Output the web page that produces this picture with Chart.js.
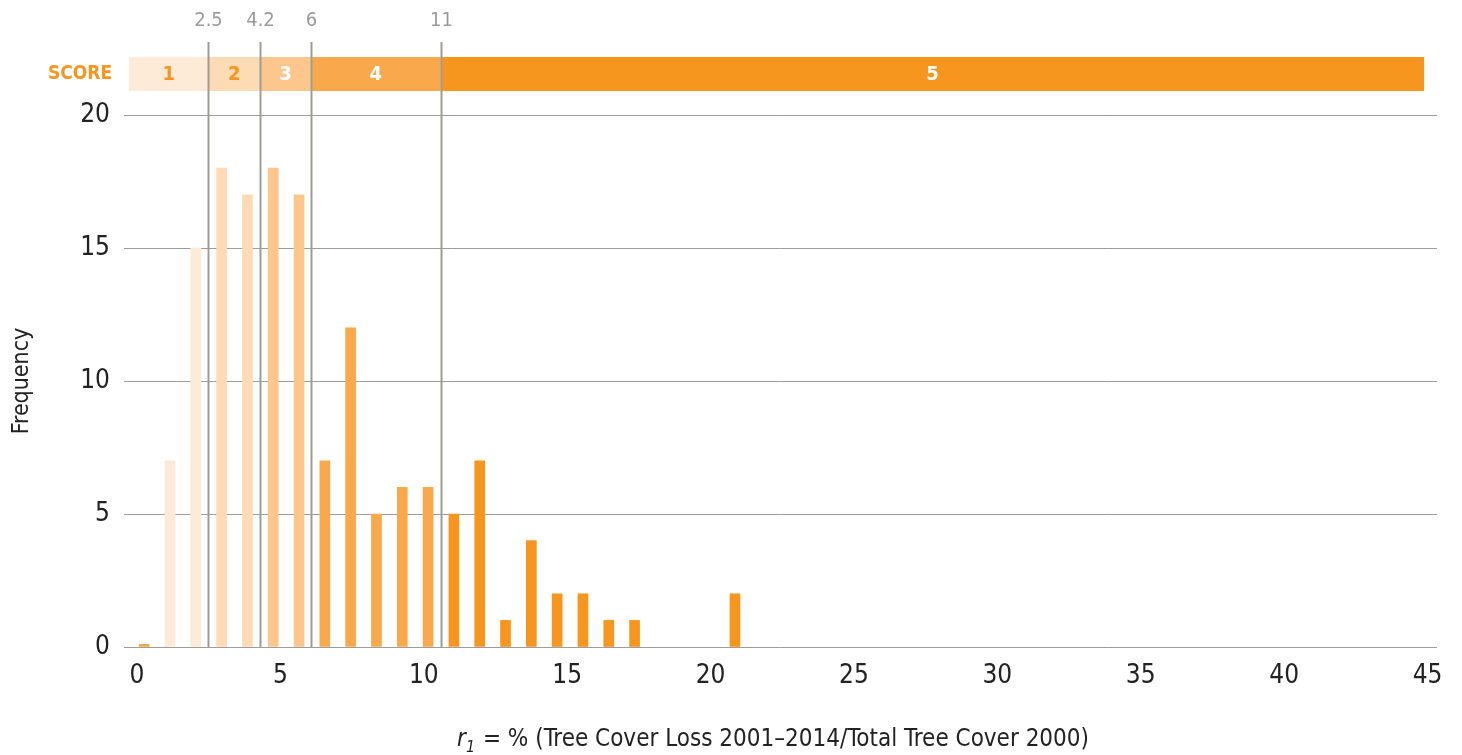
<!DOCTYPE html>
<html>
<head>
<meta charset="utf-8">
<script src="https://cdn.jsdelivr.net/npm/chart.js@4/dist/chart.umd.min.js"></script>
<style>
html,body{margin:0;padding:0;background:#fff;}
#wrap{width:1462px;height:755px;position:relative;}
</style>
</head>
<body>
<div id="wrap"><canvas id="c" width="1462" height="755"></canvas></div>
<script>
// ---- data ----
const binCenters = [0.25, 1.15, 2.05, 2.95, 3.85, 4.75, 5.65, 6.55, 7.45, 8.35, 9.25, 10.15, 11.05, 11.95, 12.85, 13.75, 14.65, 15.55, 16.45, 17.35, 20.85];
const frequency  = [0.1, 7, 15, 18, 17, 18, 17, 7, 12, 5, 6, 6, 5, 7, 1, 4, 2, 2, 1, 1, 2];
const binScore   = [4, 1, 1, 2, 2, 3, 3, 4, 4, 4, 4, 4, 5, 5, 5, 5, 5, 5, 5, 5, 5];
const xTicks     = [0, 5, 10, 15, 20, 25, 30, 35, 40, 45];
const yTicks     = [0, 5, 10, 15, 20];
const thresholdLabels    = ["2.5", "4.2", "6", "11"];
const thresholdPositions = [2.49, 4.30, 6.06, 10.59];
const scoreLabels = ["1", "2", "3", "4", "5"];
const scoreBandEdges = [-0.28, 2.49, 4.30, 6.06, 10.59, 44.88];

const scoreColors = ["#fdebd8", "#fddbb5", "#fcc68c", "#faa84c", "#f7961f"];
const scoreTextColors = ["#f7961f", "#f7961f", "#ffffff", "#ffffff", "#ffffff"];
const FONT = "'Liberation Sans Narrow', 'DejaVu Sans Condensed', 'Roboto', sans-serif";

const annot = {
  id: 'annot',
  afterDatasetsDraw(chart) {
    const ctx = chart.ctx;
    const xs = chart.scales.x, ys = chart.scales.y;
    const base = ys.getPixelForValue(0);
    // score band
    const bTop = 57, bBot = 91;
    for (let i = 0; i < scoreLabels.length; i++) {
      const x0 = xs.getPixelForValue(scoreBandEdges[i]);
      const x1 = xs.getPixelForValue(scoreBandEdges[i + 1]);
      ctx.fillStyle = scoreColors[i];
      ctx.fillRect(x0, bTop, x1 - x0, bBot - bTop);
      ctx.fillStyle = scoreTextColors[i];
      ctx.font = "bold 20px " + FONT;
      ctx.textAlign = 'center';
      ctx.textBaseline = 'middle';
      ctx.fillText(scoreLabels[i], (x0 + x1) / 2, (bTop + bBot) / 2 + 1);
    }
    ctx.fillStyle = "#f7961f";
    ctx.font = "bold 19px " + FONT;
    ctx.textAlign = 'center';
    ctx.fillText("SCORE", 80, 74);
    // threshold lines
    ctx.strokeStyle = "#9d9d95";
    ctx.lineWidth = 2;
    for (let i = 0; i < thresholdPositions.length; i++) {
      const px = Math.round(xs.getPixelForValue(thresholdPositions[i])) + 0.5;
      ctx.beginPath();
      ctx.moveTo(px, 42);
      ctx.lineTo(px, base);
      ctx.stroke();
      ctx.fillStyle = "#9a9a9a";
      ctx.font = "20px " + FONT;
      ctx.textAlign = 'center';
      ctx.textBaseline = 'middle';
      ctx.fillText(thresholdLabels[i], px, 21);
    }
    // x-axis title with italic r and subscript 1
    const t1 = "r", t2 = "1", t3 = " = % (Tree Cover Loss 2001\u20132014/Total Tree Cover 2000)";
    ctx.textBaseline = 'alphabetic';
    ctx.textAlign = 'left';
    ctx.fillStyle = "#222";
    ctx.font = "italic 24px " + FONT;
    const w1 = ctx.measureText(t1).width;
    ctx.font = "italic 16px " + FONT;
    const w2 = ctx.measureText(t2).width;
    ctx.font = "24px " + FONT;
    const w3 = ctx.measureText(t3).width;
    const total = w1 + w2 + 1 + w3;
    let sx = 773 - total / 2;
    const by = 746;
    ctx.font = "italic 24px " + FONT;
    ctx.fillText(t1, sx, by);
    sx += w1;
    ctx.font = "italic 16px " + FONT;
    ctx.fillText(t2, sx, by + 6);
    sx += w2 + 1;
    ctx.font = "24px " + FONT;
    ctx.fillText(t3, sx, by);
  }
};

new Chart(document.getElementById('c'), {
  type: 'bar',
  data: {
    datasets: [{
      data: binCenters.map((x, i) => ({ x: x, y: frequency[i] })),
      backgroundColor: binScore.map(s => scoreColors[s - 1]),
      barThickness: 10,
      borderWidth: 0
    }]
  },
  options: {
    responsive: false,
    animation: false,
    layout: { padding: { left: 0, top: 115, right: 25, bottom: 0 } },
    plugins: { legend: { display: false }, tooltip: { enabled: false } },
    scales: {
      x: {
        type: 'linear',
        offset: false,
        min: -0.453,
        max: 45.33,
        grid: { display: false, offset: false },
        border: { display: false },
        afterBuildTicks(scale) { scale.ticks = xTicks.map(v => ({ value: v })); },
        afterFit(scale) { scale.height = 108; },
        ticks: {
          color: '#222',
          padding: 6,
          maxRotation: 0,
          autoSkip: false,
          font: { family: FONT, size: 26 },
          callback: v => String(v)
        }
      },
      y: {
        min: 0,
        max: 20,
        afterBuildTicks(scale) { scale.ticks = yTicks.map(v => ({ value: v })); },
        afterFit(scale) { scale.width = 124; },
        grid: { color: '#9d9d9d', lineWidth: 1, drawTicks: false },
        border: { display: false },
        ticks: {
          color: '#222',
          padding: 14,
          font: { family: FONT, size: 26 },
          callback: v => String(v)
        },
        title: {
          display: true,
          text: 'Frequency',
          color: '#222',
          font: { family: FONT, size: 23 },
          padding: { top: 8, bottom: 0 }
        }
      }
    }
  },
  plugins: [annot]
});
</script>
</body>
</html>
